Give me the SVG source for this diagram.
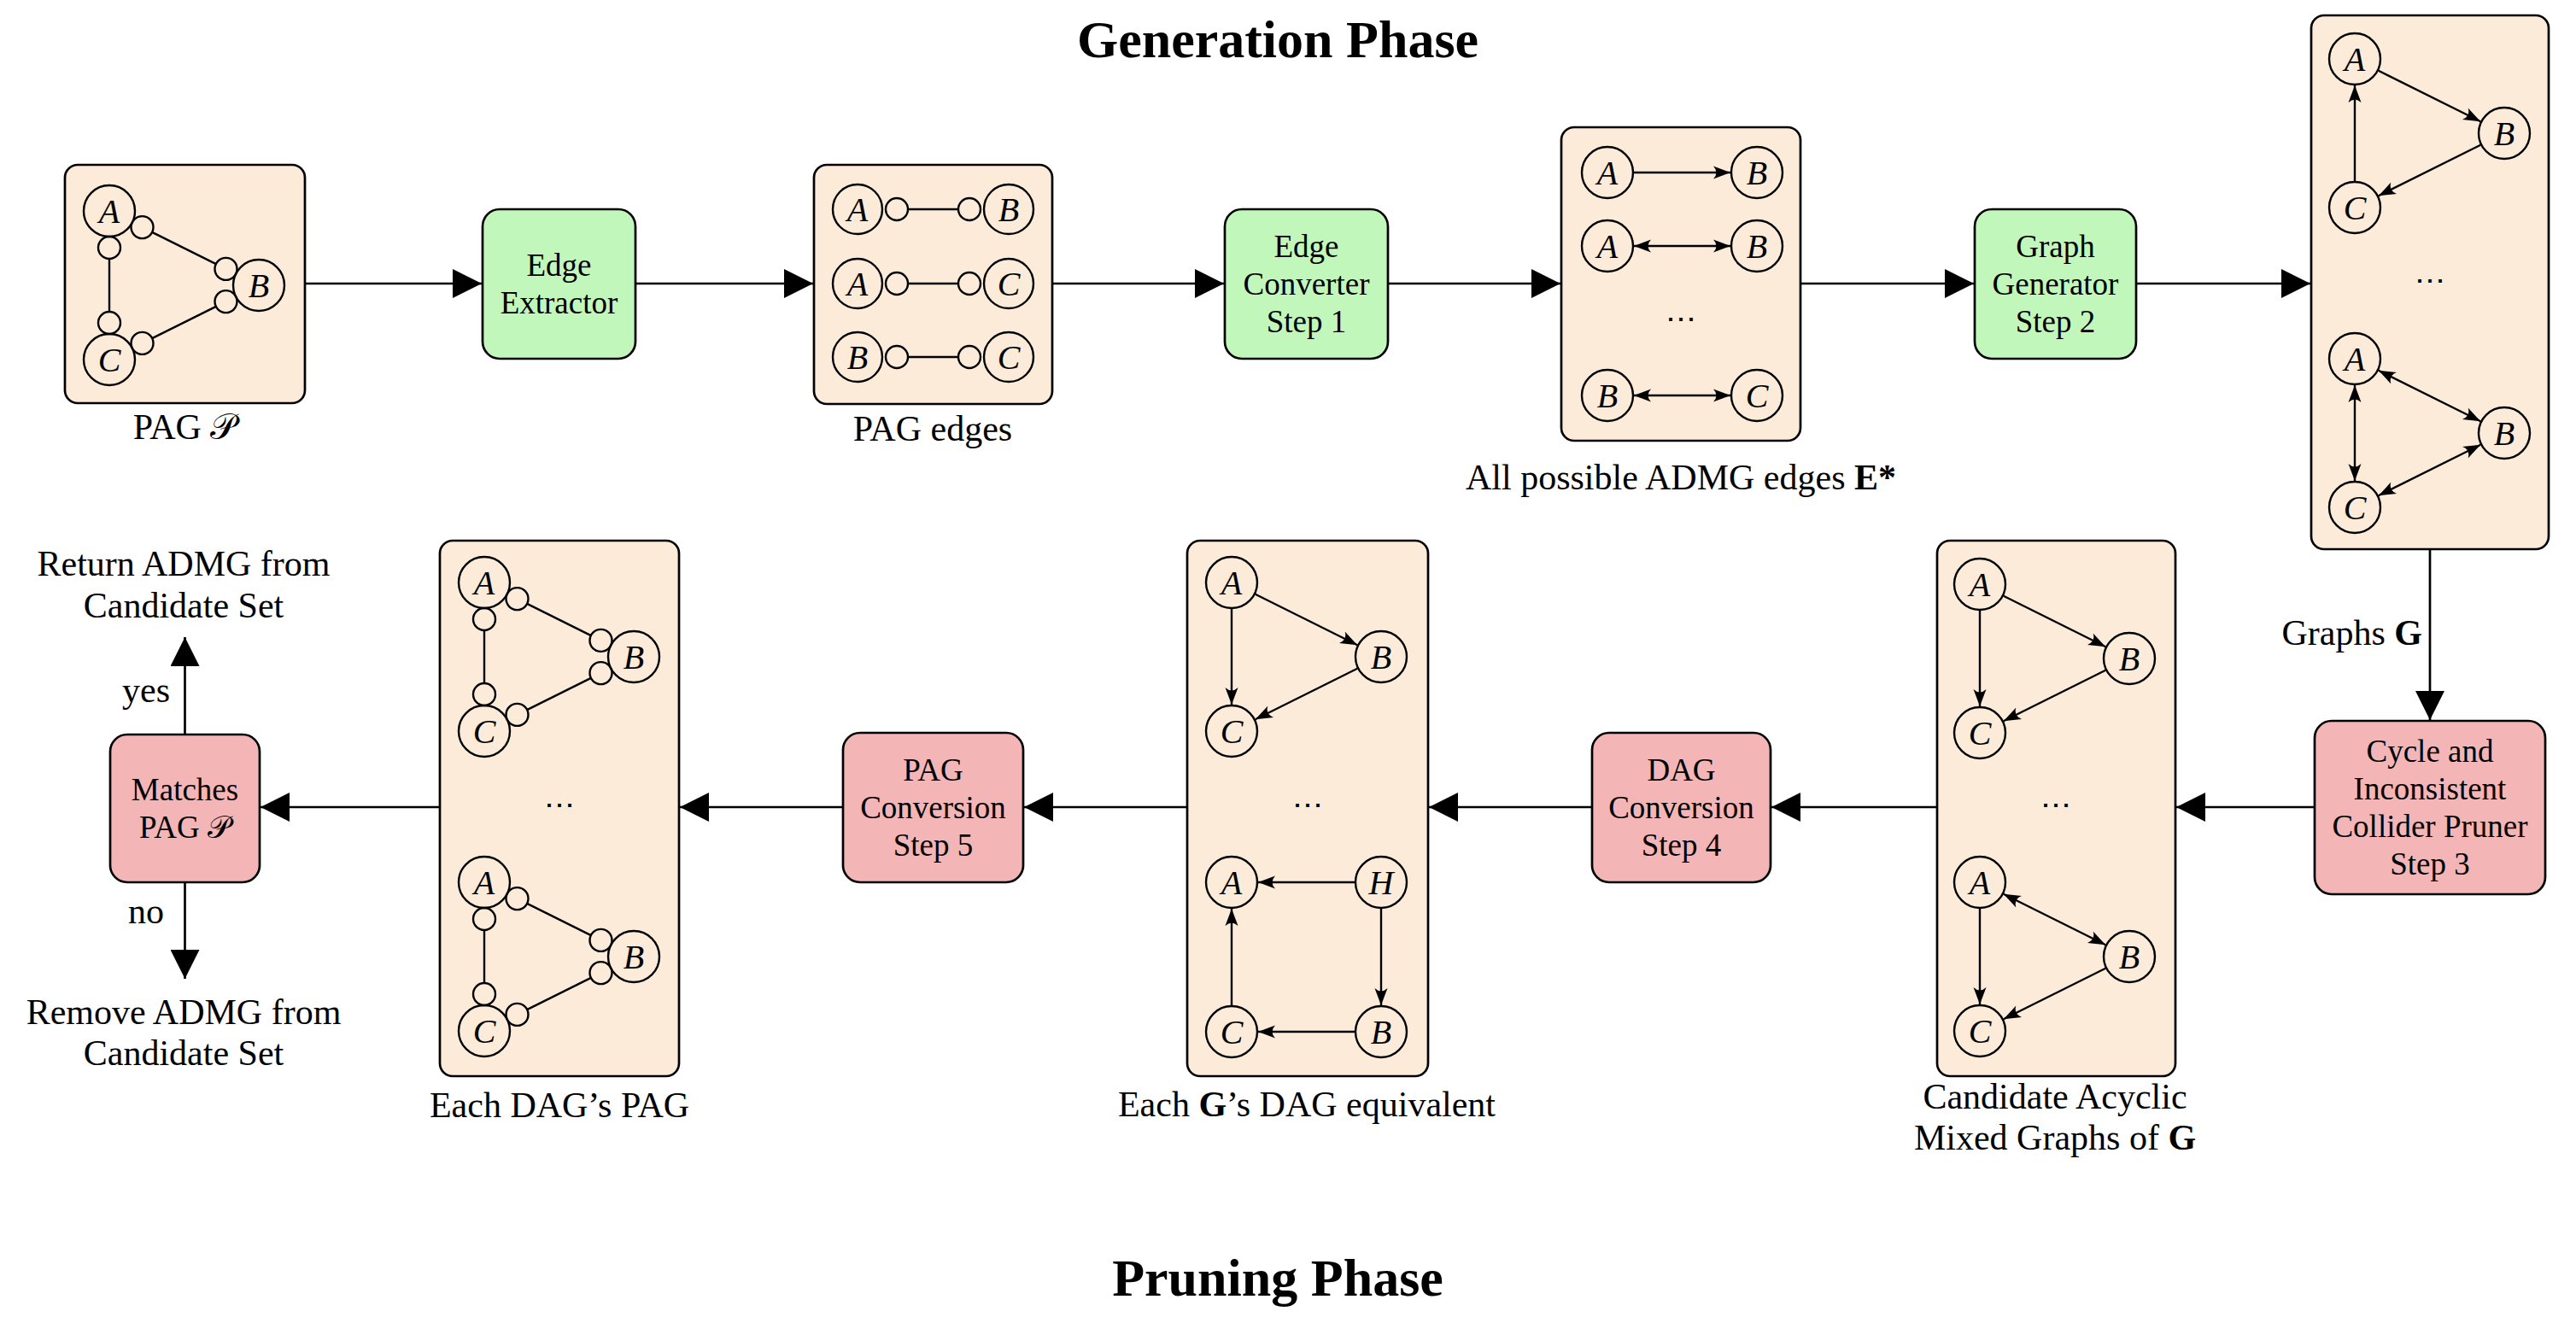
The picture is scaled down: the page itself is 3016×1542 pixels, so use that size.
<svg xmlns="http://www.w3.org/2000/svg" width="3016" height="1542" viewBox="0 0 3016 1542">
<defs>
<style>
.box{fill:#fcebd8;stroke:#000;stroke-width:2.7}
.g{fill:#c2f7bc;stroke:#000;stroke-width:2.7}
.p{fill:#f3b5b5;stroke:#000;stroke-width:2.7}
.t{font-family:"Liberation Serif","Times New Roman",serif;font-size:37px;text-anchor:middle;fill:#000}
.lb{font-family:"Liberation Serif","Times New Roman",serif;font-size:42px;text-anchor:middle;fill:#000}
.title{font-family:"Liberation Serif","Times New Roman",serif;font-size:62px;font-weight:bold;text-anchor:middle;fill:#000}
.n{fill:none;stroke:#000;stroke-width:2.4}
.v{font-family:"Liberation Serif","Times New Roman",serif;font-style:italic;font-size:40px;text-anchor:middle;fill:#000}
.e{fill:none;stroke:#000;stroke-width:2.4}
.ea{fill:none;stroke:#000;stroke-width:2.4;marker-end:url(#sm)}
.eb{fill:none;stroke:#000;stroke-width:2.4;marker-end:url(#sm);marker-start:url(#sm)}
.c{fill:none;stroke:#000;stroke-width:2.7;marker-end:url(#big)}
.dots{font-family:"DejaVu Serif",serif;font-size:36px;text-anchor:middle;fill:#000}
.scr{font-family:"DejaVu Serif","DejaVu Sans","Noto Sans",serif;font-style:normal}
.b{font-weight:bold}
</style>
<marker id="big" markerUnits="userSpaceOnUse" viewBox="0 0 34 34" markerWidth="34" markerHeight="34" refX="34" refY="17" orient="auto"><path d="M0,0 L34,17 L0,34 Z" fill="#000"/></marker>
<marker id="sm" markerUnits="userSpaceOnUse" viewBox="0 0 20 16" markerWidth="20" markerHeight="16" refX="20" refY="8" orient="auto-start-reverse"><path d="M20,8 L0,0.5 Q7,8 0,15.5 Z" fill="#000"/></marker>
<g id="tri">
<circle class="n" cx="0" cy="0" r="30"/><text class="v" x="0" y="14">A</text>
<circle class="n" cx="175" cy="87" r="30"/><text class="v" x="175" y="101">B</text>
<circle class="n" cx="0" cy="174" r="30"/><text class="v" x="0" y="188">C</text>
</g>
<g id="pag">
<use href="#tri"/>
<line class="e" x1="50.1" y1="24.9" x2="124.9" y2="62.1"/>
<line class="e" x1="124.9" y1="111.9" x2="50.1" y2="149.1"/>
<line class="e" x1="0" y1="56" x2="0" y2="118"/>
<circle class="n" cx="38.5" cy="19.1" r="13"/>
<circle class="n" cx="136.5" cy="67.9" r="13"/>
<circle class="n" cx="136.5" cy="106.1" r="13"/>
<circle class="n" cx="38.5" cy="154.9" r="13"/>
<circle class="n" cx="0" cy="43" r="13"/>
<circle class="n" cx="0" cy="131" r="13"/>
</g>
<g id="dag3">
<use href="#tri"/>
<line class="ea" x1="27.8" y1="13.8" x2="147.2" y2="73.2"/>
<line class="ea" x1="0" y1="31" x2="0" y2="143"/>
<line class="ea" x1="147.2" y1="100.8" x2="27.8" y2="160.2"/>
</g>
</defs>
<rect width="3016" height="1542" fill="#fff"/>

<text class="title" x="1496" y="67">Generation Phase</text>
<text class="title" x="1496" y="1517">Pruning Phase</text>

<g id="pag-input">
<rect class="box" x="76" y="193" width="281" height="279" rx="15"/>
<use href="#pag" transform="translate(128,247)"/>
<text class="lb" x="216" y="514">PAG <tspan class="scr">𝒫</tspan></text>
</g>

<g id="edge-extractor">
<rect class="g" x="565" y="245" width="179" height="175" rx="20"/>
<text class="t" x="654.5" y="322.5">Edge</text>
<text class="t" x="654.5" y="366.5">Extractor</text>
</g>

<g id="pag-edges">
<rect class="box" x="953" y="193" width="279" height="280" rx="15"/>
<g transform="translate(1004,245)">
<circle class="n" cx="0" cy="0" r="29"/><text class="v" x="0" y="14">A</text>
<circle class="n" cx="177" cy="0" r="29"/><text class="v" x="177" y="14">B</text>
<circle class="n" cx="46" cy="0" r="13"/><circle class="n" cx="131" cy="0" r="13"/>
<line class="e" x1="59" y1="0" x2="118" y2="0"/>
</g>
<g transform="translate(1004,332)">
<circle class="n" cx="0" cy="0" r="29"/><text class="v" x="0" y="14">A</text>
<circle class="n" cx="177" cy="0" r="29"/><text class="v" x="177" y="14">C</text>
<circle class="n" cx="46" cy="0" r="13"/><circle class="n" cx="131" cy="0" r="13"/>
<line class="e" x1="59" y1="0" x2="118" y2="0"/>
</g>
<g transform="translate(1004,418)">
<circle class="n" cx="0" cy="0" r="29"/><text class="v" x="0" y="14">B</text>
<circle class="n" cx="177" cy="0" r="29"/><text class="v" x="177" y="14">C</text>
<circle class="n" cx="46" cy="0" r="13"/><circle class="n" cx="131" cy="0" r="13"/>
<line class="e" x1="59" y1="0" x2="118" y2="0"/>
</g>
<text class="lb" x="1092" y="516">PAG edges</text>
</g>

<g id="edge-converter">
<rect class="g" x="1434" y="245" width="191" height="175" rx="20"/>
<text class="t" x="1529.5" y="300.5">Edge</text>
<text class="t" x="1529.5" y="344.5">Converter</text>
<text class="t" x="1529.5" y="388.5">Step 1</text>
</g>

<g id="admg-edges">
<rect class="box" x="1828" y="149" width="280" height="367" rx="15"/>
<g transform="translate(1882,202)">
<circle class="n" cx="0" cy="0" r="30"/><text class="v" x="0" y="14">A</text>
<circle class="n" cx="175" cy="0" r="30"/><text class="v" x="175" y="14">B</text>
<line class="ea" x1="31" y1="0" x2="144" y2="0"/>
</g>
<g transform="translate(1882,288)">
<circle class="n" cx="0" cy="0" r="30"/><text class="v" x="0" y="14">A</text>
<circle class="n" cx="175" cy="0" r="30"/><text class="v" x="175" y="14">B</text>
<line class="eb" x1="31" y1="0" x2="144" y2="0"/>
</g>
<text class="dots" x="1968" y="386">⋯</text>
<g transform="translate(1882,463)">
<circle class="n" cx="0" cy="0" r="30"/><text class="v" x="0" y="14">B</text>
<circle class="n" cx="175" cy="0" r="30"/><text class="v" x="175" y="14">C</text>
<line class="eb" x1="31" y1="0" x2="144" y2="0"/>
</g>
<text class="lb" x="1968" y="573">All possible ADMG edges <tspan class="b">E*</tspan></text>
</g>

<g id="graph-generator">
<rect class="g" x="2312" y="245" width="189" height="175" rx="20"/>
<text class="t" x="2406.5" y="300.5">Graph</text>
<text class="t" x="2406.5" y="344.5">Generator</text>
<text class="t" x="2406.5" y="388.5">Step 2</text>
</g>

<g id="graphs">
<rect class="box" x="2706" y="18" width="278" height="625" rx="15"/>
<g transform="translate(2757,69)">
<use href="#tri"/>
<line class="ea" x1="27.8" y1="13.8" x2="147.2" y2="73.2"/>
<line class="ea" x1="147.2" y1="100.8" x2="27.8" y2="160.2"/>
<line class="ea" x1="0" y1="143" x2="0" y2="31"/>
</g>
<text class="dots" x="2845" y="341">⋯</text>
<g transform="translate(2757,420)">
<use href="#tri"/>
<line class="eb" x1="27.8" y1="13.8" x2="147.2" y2="73.2"/>
<line class="eb" x1="27.8" y1="160.2" x2="147.2" y2="100.8"/>
<line class="eb" x1="0" y1="31" x2="0" y2="143"/>
</g>
</g>

<g id="pruner">
<rect class="p" x="2710" y="844" width="270" height="203" rx="20"/>
<text class="t" x="2845" y="891.5">Cycle and</text>
<text class="t" x="2845" y="935.5">Inconsistent</text>
<text class="t" x="2845" y="979.5">Collider Pruner</text>
<text class="t" x="2845" y="1023.5">Step 3</text>
</g>

<g id="candidates">
<rect class="box" x="2268" y="633" width="279" height="627" rx="15"/>
<use href="#dag3" transform="translate(2318,684)"/>
<text class="dots" x="2407" y="955">⋯</text>
<g transform="translate(2318,1033)">
<use href="#tri"/>
<line class="eb" x1="27.8" y1="13.8" x2="147.2" y2="73.2"/>
<line class="ea" x1="0" y1="31" x2="0" y2="143"/>
<line class="ea" x1="147.2" y1="100.8" x2="27.8" y2="160.2"/>
</g>
<text class="lb" x="2406" y="1298">Candidate Acyclic</text>
<text class="lb" x="2406" y="1346">Mixed Graphs of <tspan class="b">G</tspan></text>
</g>

<g id="dag-conversion">
<rect class="p" x="1864" y="858" width="209" height="175" rx="20"/>
<text class="t" x="1968.5" y="913.5">DAG</text>
<text class="t" x="1968.5" y="957.5">Conversion</text>
<text class="t" x="1968.5" y="1001.5">Step 4</text>
</g>

<g id="dag-equivalents">
<rect class="box" x="1390" y="633" width="282" height="627" rx="15"/>
<use href="#dag3" transform="translate(1442,682)"/>
<text class="dots" x="1531" y="955">⋯</text>
<g transform="translate(1442,1033)">
<circle class="n" cx="0" cy="0" r="30"/><text class="v" x="0" y="14">A</text>
<circle class="n" cx="175" cy="0" r="30"/><text class="v" x="175" y="14">H</text>
<circle class="n" cx="0" cy="175" r="30"/><text class="v" x="0" y="189">C</text>
<circle class="n" cx="175" cy="175" r="30"/><text class="v" x="175" y="189">B</text>
<line class="ea" x1="144" y1="0" x2="31" y2="0"/>
<line class="ea" x1="175" y1="31" x2="175" y2="144"/>
<line class="ea" x1="0" y1="144" x2="0" y2="31"/>
<line class="ea" x1="144" y1="175" x2="31" y2="175"/>
</g>
<text class="lb" x="1530" y="1307">Each <tspan class="b">G</tspan>’s DAG equivalent</text>
</g>

<g id="pag-conversion">
<rect class="p" x="987" y="858" width="211" height="175" rx="20"/>
<text class="t" x="1092.5" y="913.5">PAG</text>
<text class="t" x="1092.5" y="957.5">Conversion</text>
<text class="t" x="1092.5" y="1001.5">Step 5</text>
</g>

<g id="dag-pags">
<rect class="box" x="515" y="633" width="280" height="627" rx="15"/>
<use href="#pag" transform="translate(567,682)"/>
<text class="dots" x="655" y="955">⋯</text>
<use href="#pag" transform="translate(567,1033)"/>
<text class="lb" x="655" y="1308">Each DAG’s PAG</text>
</g>

<g id="matches">
<rect class="p" x="129" y="860" width="175" height="173" rx="20"/>
<text class="t" x="216.5" y="936.5">Matches</text>
<text class="t" x="216.5" y="980.5">PAG <tspan class="scr">𝒫</tspan></text>
</g>

<g id="return">
<text class="lb" x="215" y="674">Return ADMG from</text>
<text class="lb" x="215" y="723">Candidate Set</text>
</g>
<g id="remove">
<text class="lb" x="215" y="1199">Remove ADMG from</text>
<text class="lb" x="215" y="1247">Candidate Set</text>
</g>

<g id="connectors">
<path class="c" d="M357,332 H564"/>
<path class="c" d="M744,332 H952"/>
<path class="c" d="M1232,332 H1433"/>
<path class="c" d="M1625,332 H1827"/>
<path class="c" d="M2108,332 H2311"/>
<path class="c" d="M2501,332 H2705"/>
<path class="c" d="M2845,643 V843"/>
<text class="lb" x="2836" y="755" style="text-anchor:end">Graphs <tspan class="b">G</tspan></text>
<path class="c" d="M2710,945 H2548"/>
<path class="c" d="M2268,945 H2074"/>
<path class="c" d="M1864,945 H1673"/>
<path class="c" d="M1390,945 H1199"/>
<path class="c" d="M987,945 H796"/>
<path class="c" d="M515,945 H305"/>
<path class="c" d="M216.5,860 V746"/>
<path class="c" d="M216.5,1033 V1146"/>
<text class="lb" x="171" y="822">yes</text>
<text class="lb" x="171" y="1081">no</text>
</g>
</svg>
